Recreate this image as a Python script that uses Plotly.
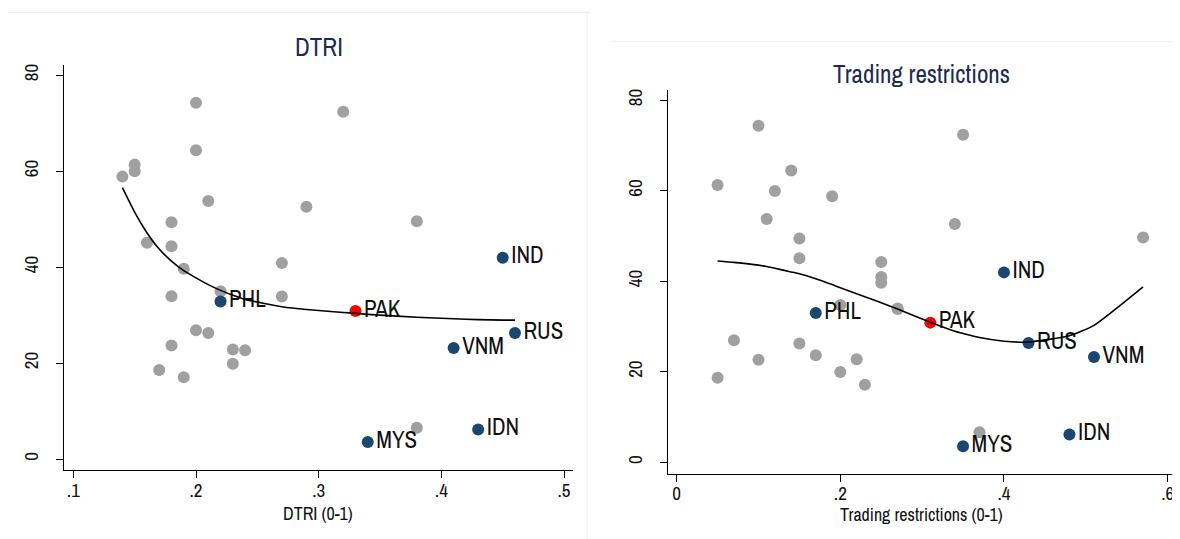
import plotly.graph_objects as go

# ---------------- data ----------------
# Panel 1: DTRI (0-1) vs outcome
dtri_other_x = [0.14, 0.15, 0.15, 0.20, 0.32, 0.20, 0.21, 0.29, 0.18, 0.38, 0.16, 0.18, 0.19,
                0.27, 0.22, 0.18, 0.27, 0.20, 0.21, 0.18, 0.23, 0.24, 0.23, 0.17, 0.19, 0.38]
dtri_other_y = [58.9, 61.4, 60.0, 74.3, 72.4, 64.4, 53.8, 52.6, 49.4, 49.6, 45.1, 44.4, 39.7,
                40.9, 35.0, 34.0, 33.9, 26.9, 26.3, 23.7, 22.9, 22.7, 19.9, 18.6, 17.1, 6.6]
dtri_peer_codes = ["PHL", "IND", "RUS", "VNM", "IDN", "MYS"]
dtri_peer_x = [0.22, 0.45, 0.46, 0.41, 0.43, 0.34]
dtri_peer_y = [32.9, 42.0, 26.3, 23.2, 6.2, 3.6]
dtri_focus_code = ["PAK"]
dtri_focus_x = [0.33]
dtri_focus_y = [30.9]
dtri_fit_x = [0.14, 0.15, 0.16, 0.17, 0.18, 0.19, 0.20, 0.21, 0.22, 0.23, 0.24, 0.27, 0.29,
              0.32, 0.33, 0.34, 0.38, 0.41, 0.43, 0.45, 0.46]
dtri_fit_y = [56.6, 51.5, 47.2, 43.8, 41.3, 39.3, 37.8, 36.4, 35.2, 34.2, 33.3, 31.8, 31.2,
              30.6, 30.4, 30.2, 29.6, 29.3, 29.1, 29.0, 29.0]

# Panel 2: Trading restrictions (0-1) vs outcome
trade_other_x = [0.05, 0.10, 0.14, 0.12, 0.19, 0.11, 0.35, 0.34, 0.15, 0.57, 0.15, 0.25, 0.25,
                 0.25, 0.20, 0.27, 0.27, 0.07, 0.15, 0.17, 0.10, 0.22, 0.20, 0.05, 0.23, 0.37]
trade_other_y = [61.3, 74.4, 64.5, 60.0, 58.8, 53.8, 72.4, 52.7, 49.5, 49.7, 45.1, 44.3, 41.0,
                 39.7, 34.8, 34.0, 33.9, 27.0, 26.3, 23.7, 22.7, 22.8, 20.0, 18.7, 17.2, 6.7]
trade_peer_codes = ["PHL", "IND", "RUS", "VNM", "IDN", "MYS"]
trade_peer_x = [0.17, 0.40, 0.43, 0.51, 0.48, 0.35]
trade_peer_y = [33.0, 42.0, 26.4, 23.3, 6.2, 3.6]
trade_focus_code = ["PAK"]
trade_focus_x = [0.31]
trade_focus_y = [30.9]
trade_fit_x = [0.05, 0.07, 0.10, 0.11, 0.12, 0.14, 0.15, 0.17, 0.19, 0.20, 0.22, 0.23, 0.25,
               0.27, 0.31, 0.34, 0.35, 0.37, 0.40, 0.43, 0.48, 0.51, 0.57]
trade_fit_y = [44.5, 44.2, 43.6, 43.3, 42.9, 42.1, 41.7, 40.6, 39.3, 38.6, 37.3, 36.6, 35.3,
               33.9, 31.0, 29.0, 28.5, 27.6, 26.8, 26.6, 28.0, 30.3, 38.8]

panel_titles = ["DTRI", "Trading restrictions"]
x_titles = ["DTRI (0-1)", "Trading restrictions (0-1)"]
y_tickvals = [0, 20, 40, 60, 80]
y_ticktext = ["0", "20", "40", "60", "80"]
dtri_tickvals = [0.1, 0.2, 0.3, 0.4, 0.5]
dtri_ticktext = [".1", ".2", ".3", ".4", ".5"]
trade_tickvals = [0, 0.2, 0.4, 0.6]
trade_ticktext = ["0", ".2", ".4", ".6"]

# ---------------- style ----------------
FONT = "Archivo Narrow, Liberation Sans Narrow, Arial Narrow, sans-serif"
GRAY = "#a0a0a0"
BLUE = "#1a476f"
RED = "#ff0000"
TITLE_COLOR = "#1c2b50"
TXT = "#111111"
MS = 12

fig = go.Figure()

def add_panel(xa, ya, ox, oy, pcodes, px, py, fcode, fx, fy, fitx, fity):
    fig.add_trace(go.Scatter(x=ox, y=oy, mode="markers", xaxis=xa, yaxis=ya,
                             marker=dict(color=GRAY, size=MS), showlegend=False,
                             hoverinfo="skip"))
    fig.add_trace(go.Scatter(x=px, y=py, mode="markers+text", text=pcodes,
                             textposition="middle right", xaxis=xa, yaxis=ya,
                             textfont=dict(family=FONT, size=23, color=TXT),
                             marker=dict(color=BLUE, size=MS), showlegend=False))
    fig.add_trace(go.Scatter(x=fx, y=fy, mode="markers+text", text=fcode,
                             textposition="middle right", xaxis=xa, yaxis=ya,
                             textfont=dict(family=FONT, size=23, color=TXT),
                             marker=dict(color=RED, size=MS), showlegend=False))
    fig.add_trace(go.Scatter(x=fitx, y=fity, mode="lines", xaxis=xa, yaxis=ya,
                             line=dict(color="black", width=1.6, shape="spline", smoothing=0.5),
                             showlegend=False))

add_panel("x", "y", dtri_other_x, dtri_other_y, dtri_peer_codes, dtri_peer_x, dtri_peer_y,
          dtri_focus_code, dtri_focus_x, dtri_focus_y, dtri_fit_x, dtri_fit_y)
add_panel("x2", "y2", trade_other_x, trade_other_y, trade_peer_codes, trade_peer_x, trade_peer_y,
          trade_focus_code, trade_focus_x, trade_focus_y, trade_fit_x, trade_fit_y)

# the page body adds an 8px margin, so the figure is placed at (8, 8) in the window
OFF = 8
W, H = 1180 - OFF, 539 - OFF

def px_x(p):
    return (p - OFF) / W

def px_y(p):
    return 1 - (p - OFF) / H

axis_common = dict(showline=True, linecolor="black", linewidth=1.2, ticks="outside",
                   tickcolor="black", ticklen=7, tickwidth=1.2, showgrid=False, zeroline=False,
                   tickfont=dict(family=FONT, size=19, color=TXT), mirror=False)

def label(text, x, y, size, color):
    return dict(text=text, x=px_x(x), y=px_y(y), xref="paper", yref="paper",
                showarrow=False, xanchor="center", yanchor="middle",
                font=dict(family=FONT, size=size, color=color))

fig.update_layout(
    width=W, height=H, autosize=False,
    margin=dict(l=0, r=0, t=0, b=0),
    paper_bgcolor="white", plot_bgcolor="white",
    font=dict(family=FONT, color=TXT),
    xaxis=dict(domain=[px_x(64), px_x(573)], range=[0.0924, 0.5073], anchor="y",
               tickvals=dtri_tickvals, ticktext=dtri_ticktext, ticklabelstandoff=-4,
               **axis_common),
    yaxis=dict(domain=[px_y(470), px_y(63)], range=[-2.28, 82.2], anchor="x",
               tickvals=y_tickvals, ticktext=y_ticktext, tickangle=-90,
               ticklabelstandoff=10, **axis_common),
    xaxis2=dict(domain=[px_x(668), px_x(1175)], range=[-0.0106, 0.609], anchor="y2",
                tickvals=trade_tickvals, ticktext=trade_ticktext, ticklabelstandoff=-4,
                **axis_common),
    yaxis2=dict(domain=[px_y(473.3), px_y(88.7)], range=[-2.44, 82.2], anchor="x2",
                tickvals=y_tickvals, ticktext=y_ticktext, tickangle=-90,
                ticklabelstandoff=10, **axis_common),
    annotations=[
        label(panel_titles[0], 319, 44.7, 25, TITLE_COLOR),
        label(panel_titles[1], 921, 72.2, 25, TITLE_COLOR),
        label(x_titles[0], 318, 513, 18, TXT),
        label(x_titles[1], 921, 514, 18, TXT),
    ],
    shapes=[
        dict(type="line", xref="paper", yref="paper", x0=px_x(8), x1=px_x(590),
             y0=px_y(10.3), y1=px_y(10.3), line=dict(color="#e6ebee", width=1)),
        dict(type="line", xref="paper", yref="paper", x0=px_x(587), x1=px_x(587),
             y0=0, y1=px_y(10.3), line=dict(color="#eef2f4", width=1)),
        dict(type="line", xref="paper", yref="paper", x0=px_x(610.7), x1=1,
             y0=px_y(39.5), y1=px_y(39.5), line=dict(color="#eef2f4", width=1)),
    ],
)

fig.write_html("out.html")
